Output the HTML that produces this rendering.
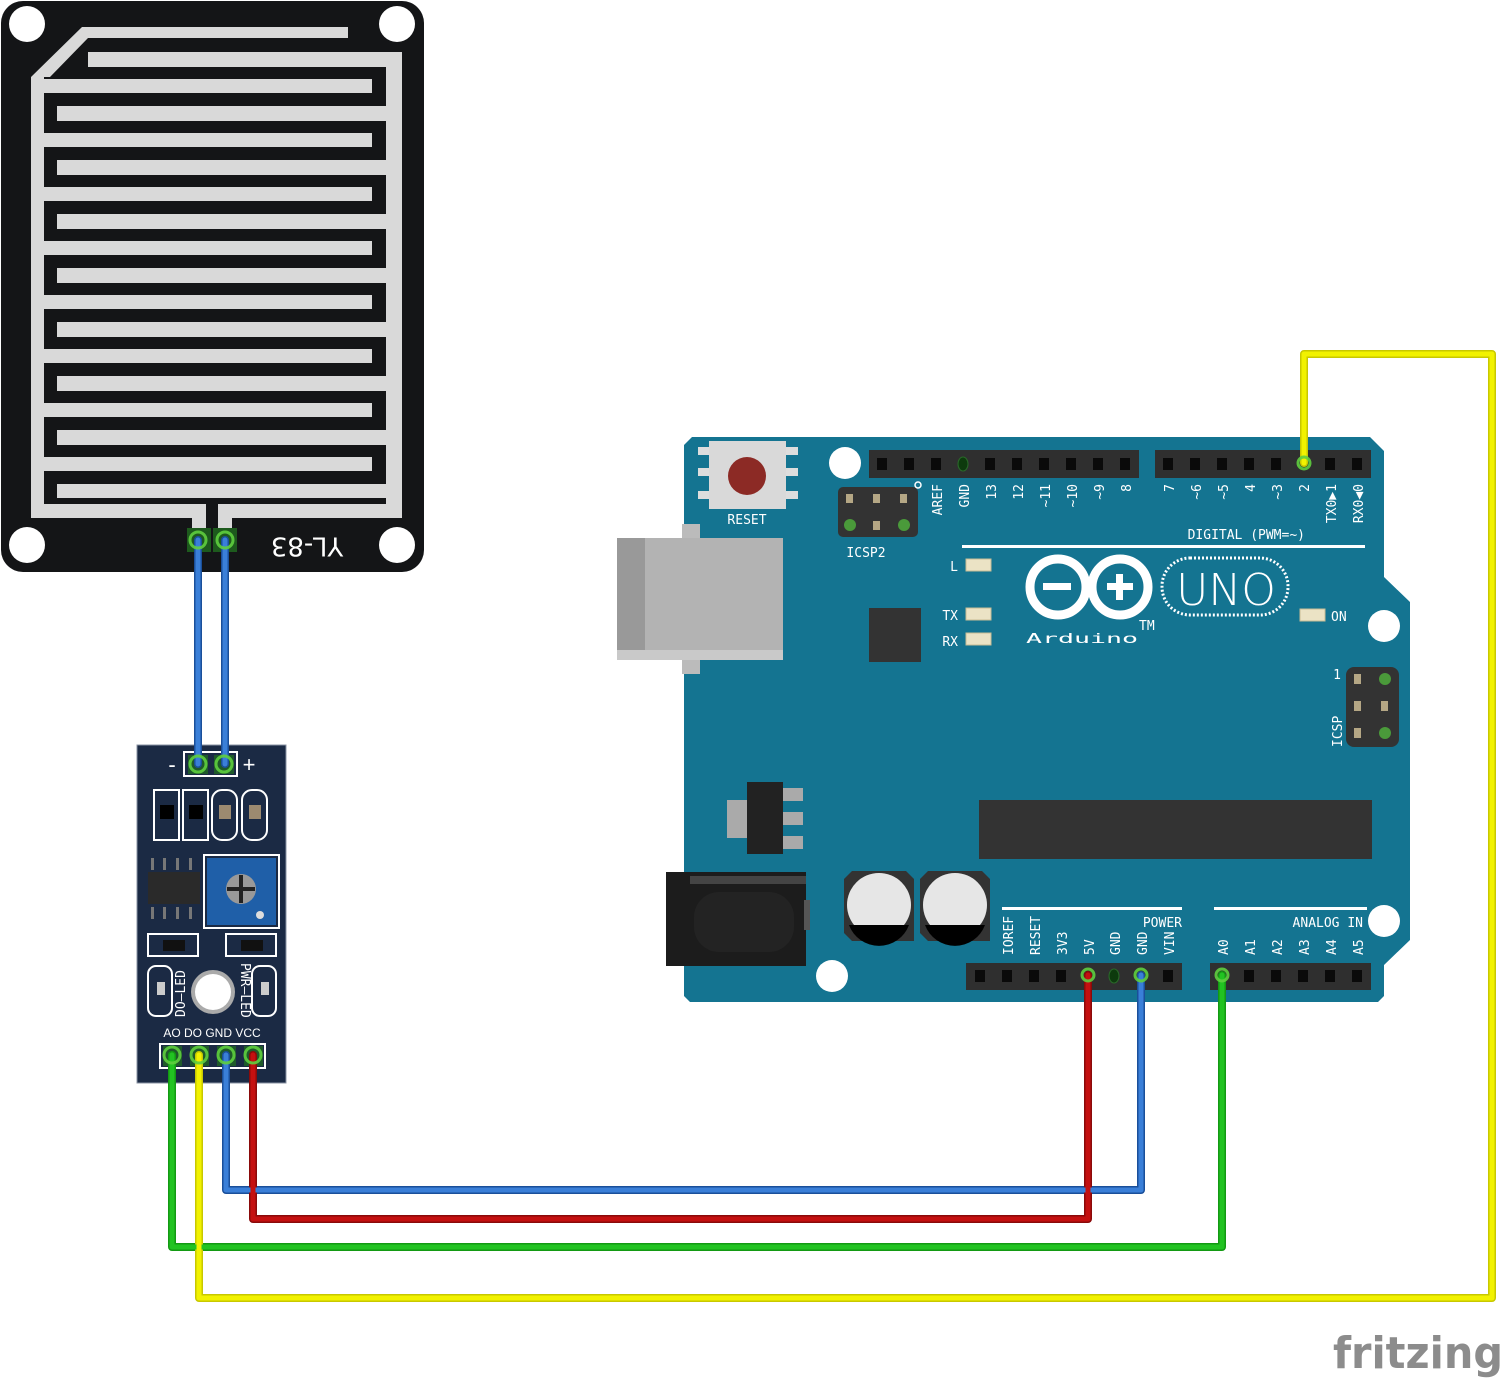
<!DOCTYPE html>
<html><head><meta charset="utf-8"><style>
html,body{margin:0;padding:0;background:#fff;width:1506px;height:1380px;overflow:hidden}
svg{display:block}
.t{font-family:"DejaVu Sans Mono","Liberation Mono",monospace;fill:#fff;font-size:13px}
</style></head><body>
<svg width="1506" height="1380" viewBox="0 0 1506 1380" xmlns="http://www.w3.org/2000/svg">
<rect x="1" y="1" width="423" height="571" rx="22" fill="#141517"/>
<g fill="#d9d9d9">
<polygon points="31,77 82,27 348,27 348,38 88,38 50,77 44,77 44,518 31,518"/>
<rect x="386" y="52" width="16" height="466"/>
<rect x="88" y="52" width="300" height="15"/>
<rect x="57" y="106" width="330" height="15"/>
<rect x="57" y="160" width="330" height="15"/>
<rect x="57" y="214" width="330" height="15"/>
<rect x="57" y="268" width="330" height="15"/>
<rect x="57" y="322" width="330" height="15"/>
<rect x="57" y="376" width="330" height="15"/>
<rect x="57" y="430" width="330" height="15"/>
<rect x="57" y="484" width="330" height="14"/>
<rect x="44" y="79" width="328" height="14"/>
<rect x="44" y="133" width="328" height="14"/>
<rect x="44" y="187" width="328" height="14"/>
<rect x="44" y="241" width="328" height="14"/>
<rect x="44" y="295" width="328" height="14"/>
<rect x="44" y="349" width="328" height="14"/>
<rect x="44" y="403" width="328" height="14"/>
<rect x="44" y="457" width="328" height="14"/>
<rect x="31" y="504" width="175" height="14"/>
<rect x="192" y="504" width="14" height="28"/>
<rect x="218" y="504" width="184" height="14"/>
<rect x="218" y="504" width="14" height="28"/>
</g>
<g fill="#fff"><circle cx="27" cy="24" r="18"/><circle cx="397" cy="24" r="18"/><circle cx="27" cy="545" r="18"/><circle cx="397" cy="545" r="18"/></g>
<rect x="187" y="528" width="24" height="24" fill="#1d5a1d"/><rect x="213" y="528" width="24" height="24" fill="#1d5a1d"/>
<text x="307" y="545" font-family="DejaVu Sans,Liberation Sans,sans-serif" font-size="26" fill="#fff" text-anchor="middle" transform="rotate(180 307 545)" dominant-baseline="middle">YL-83</text>

<rect x="137" y="745" width="149" height="338" fill="#1b2a44"/>
<rect x="137" y="745" width="149" height="338" fill="none" stroke="#8a93a3" stroke-width="1"/>
<rect x="184" y="752" width="53" height="24" fill="none" stroke="#fff" stroke-width="2"/>
<rect x="188" y="755" width="20" height="19" fill="#1f5a2a"/><rect x="214" y="755" width="20" height="19" fill="#1f5a2a"/>
<text x="172" y="772" font-family="Liberation Sans,sans-serif" font-size="22" fill="#fff" text-anchor="middle">-</text>
<text x="249" y="772" font-family="Liberation Sans,sans-serif" font-size="22" fill="#fff" text-anchor="middle">+</text>
<g fill="none" stroke="#fff" stroke-width="2">
<rect x="154" y="790" width="25" height="50"/><rect x="183" y="790" width="25" height="50"/>
<rect x="212" y="790" width="25" height="50" rx="10"/><rect x="242" y="790" width="25" height="50" rx="10"/>
<rect x="204" y="855" width="75" height="73"/>
<rect x="148" y="934" width="50" height="22"/><rect x="226" y="934" width="50" height="22"/>
<rect x="148" y="966" width="24" height="50" rx="8"/><rect x="252" y="966" width="24" height="50" rx="8"/>
<rect x="160" y="1044" width="105" height="24"/>
</g>
<g fill="#000"><rect x="160" y="805" width="14" height="14"/><rect x="189" y="805" width="14" height="14"/></g>
<g fill="#9c8a70"><rect x="219" y="805" width="12" height="14"/><rect x="249" y="805" width="12" height="14"/></g>
<rect x="148" y="872" width="52" height="32" fill="#2a2a2a"/>
<g fill="#777"><rect x="151" y="858" width="3" height="12"/><rect x="163" y="858" width="3" height="12"/><rect x="176" y="858" width="3" height="12"/><rect x="189" y="858" width="3" height="12"/>
<rect x="151" y="907" width="3" height="12"/><rect x="163" y="907" width="3" height="12"/><rect x="176" y="907" width="3" height="12"/><rect x="189" y="907" width="3" height="12"/></g>
<rect x="207" y="858" width="69" height="67" fill="#1f5fa8"/>
<circle cx="241" cy="889" r="15" fill="#999"/><rect x="227" y="887" width="28" height="4" fill="#222"/><rect x="239" y="875" width="4" height="28" fill="#222"/>
<circle cx="260" cy="915" r="4" fill="#ddd"/>
<rect x="163" y="940" width="22" height="11" fill="#111"/><rect x="241" y="940" width="22" height="11" fill="#111"/>
<rect x="157" y="982" width="8" height="13" fill="#ccc"/><rect x="261" y="982" width="8" height="13" fill="#ccc"/>
<circle cx="213" cy="992" r="22" fill="#aaa"/><circle cx="213" cy="992" r="18" fill="#fff"/>
<text class="t" font-size="11" transform="translate(185,1017) rotate(-90)">DO—LED</text>
<text class="t" font-size="11" transform="translate(241,963) rotate(90)">PWR—LED</text>
<text x="212" y="1037" font-family="Liberation Sans,sans-serif" font-size="12" fill="#fff" text-anchor="middle">AO  DO  GND  VCC</text>
<g fill="#1f5a2a"><rect x="163" y="1046" width="19" height="20"/><rect x="190" y="1046" width="19" height="20"/><rect x="217" y="1046" width="19" height="20"/><rect x="244" y="1046" width="19" height="20"/></g>

<polygon points="692,437 1370,437 1384,451 1384,577 1410,602 1410,940 1384,965 1384,996 1378,1002 690,1002 684,996 684,445" fill="#147491"/>
<rect x="682" y="524" width="18" height="150" fill="#bbb"/>
<rect x="617" y="538" width="166" height="122" fill="#b3b3b3"/>
<rect x="617" y="538" width="28" height="122" fill="#999"/>
<rect x="617" y="650" width="166" height="10" fill="#c9c9c9"/>
<rect x="698" y="447" width="100" height="8" fill="#ddd"/><rect x="698" y="468" width="100" height="8" fill="#ddd"/><rect x="698" y="491" width="100" height="8" fill="#ddd"/>
<rect x="709" y="441" width="77" height="68" fill="#d9d9d9"/>
<ellipse cx="747" cy="476" rx="19" ry="19" fill="#8c2a25"/>
<text class="t" x="747" y="524" text-anchor="middle" font-size="15">RESET</text>
<circle cx="845" cy="463" r="16" fill="#fff"/>
<circle cx="1384" cy="626" r="16" fill="#fff"/>
<circle cx="1384" cy="921" r="16" fill="#fff"/>
<circle cx="832" cy="976" r="16" fill="#fff"/>
<rect x="838" y="487" width="80" height="50" rx="5" fill="#333"/>
<g fill="#b5a785"><rect x="846" y="494" width="7" height="9"/><rect x="873" y="494" width="7" height="9"/><rect x="900" y="494" width="7" height="9"/><rect x="873" y="521" width="7" height="9"/></g>
<circle cx="850" cy="525" r="6" fill="#4a9a3a"/><circle cx="904" cy="525" r="6" fill="#4a9a3a"/>
<text class="t" x="866" y="557" text-anchor="middle" font-size="15">ICSP2</text>
<circle cx="918" cy="485" r="3" fill="none" stroke="#fff" stroke-width="1.5"/>
<rect x="869" y="450" width="270" height="28" fill="#2f2f2f"/>
<rect x="1155" y="450" width="216" height="28" fill="#2f2f2f"/>
<g fill="#0a0a0a">
<rect x="877" y="458" width="10" height="12"/><rect x="904" y="458" width="10" height="12"/><rect x="931" y="458" width="10" height="12"/><rect x="985" y="458" width="10" height="12"/><rect x="1012" y="458" width="10" height="12"/><rect x="1039" y="458" width="10" height="12"/><rect x="1066" y="458" width="10" height="12"/><rect x="1093" y="458" width="10" height="12"/><rect x="1120" y="458" width="10" height="12"/>
<rect x="1163" y="458" width="10" height="12"/><rect x="1190" y="458" width="10" height="12"/><rect x="1217" y="458" width="10" height="12"/><rect x="1244" y="458" width="10" height="12"/><rect x="1271" y="458" width="10" height="12"/><rect x="1325" y="458" width="10" height="12"/><rect x="1352" y="458" width="10" height="12"/>
</g>
<ellipse cx="963" cy="464" rx="5" ry="7" fill="#0d3a0d" stroke="#2a6a2a"/>
<g class="t">
<text transform="translate(942,484) rotate(-90)" text-anchor="end">AREF</text>
<text transform="translate(969,484) rotate(-90)" text-anchor="end">GND</text>
<text transform="translate(996,484) rotate(-90)" text-anchor="end">13</text>
<text transform="translate(1023,484) rotate(-90)" text-anchor="end">12</text>
<text transform="translate(1050,484) rotate(-90)" text-anchor="end">~11</text>
<text transform="translate(1077,484) rotate(-90)" text-anchor="end">~10</text>
<text transform="translate(1104,484) rotate(-90)" text-anchor="end">~9</text>
<text transform="translate(1131,484) rotate(-90)" text-anchor="end">8</text>
<text transform="translate(1174,484) rotate(-90)" text-anchor="end">7</text>
<text transform="translate(1201,484) rotate(-90)" text-anchor="end">~6</text>
<text transform="translate(1228,484) rotate(-90)" text-anchor="end">~5</text>
<text transform="translate(1255,484) rotate(-90)" text-anchor="end">4</text>
<text transform="translate(1282,484) rotate(-90)" text-anchor="end">~3</text>
<text transform="translate(1309,484) rotate(-90)" text-anchor="end">2</text>
<text transform="translate(1336,484) rotate(-90)" text-anchor="end">TX0▶1</text>
<text transform="translate(1363,484) rotate(-90)" text-anchor="end">RX0◀0</text>
</g>
<text class="t" x="1305" y="539" text-anchor="end">DIGITAL (PWM=~)</text>
<rect x="962" y="545" width="403" height="3" fill="#fff"/>
<g fill="#ebe3c5" stroke="#c8bd95"><rect x="966" y="559" width="25" height="12"/><rect x="966" y="608" width="25" height="12"/><rect x="966" y="633" width="25" height="12"/><rect x="1300" y="609" width="25" height="12"/></g>
<text class="t" x="958" y="571" text-anchor="end" font-size="16">L</text>
<text class="t" x="958" y="620" text-anchor="end" font-size="16">TX</text>
<text class="t" x="958" y="646" text-anchor="end" font-size="16">RX</text>
<text class="t" x="1331" y="621" font-size="16">ON</text>
<rect x="869" y="608" width="52" height="54" fill="#333"/>
<g fill="none" stroke="#fff" stroke-width="9">
<circle cx="1058" cy="587" r="28"/><circle cx="1120" cy="587" r="28"/>
</g>
<rect x="1043" y="583" width="28" height="7" fill="#fff"/>
<rect x="1107" y="583" width="26" height="7" fill="#fff"/><rect x="1116" y="574" width="7" height="26" fill="#fff"/>
<rect x="1162" y="558" width="126" height="57" rx="28" fill="none" stroke="#fff" stroke-width="3" stroke-dasharray="2 2"/>
<text x="1226" y="605" font-family="DejaVu Sans,Liberation Sans,sans-serif" font-size="44" fill="#fff" text-anchor="middle" font-weight="300">UNO</text>
<text class="t" x="1026" y="643" font-size="22" textLength="112" lengthAdjust="spacingAndGlyphs">Arduino</text>
<text class="t" x="1139" y="630" font-size="7">TM</text>
<rect x="1346" y="667" width="53" height="80" rx="8" fill="#333"/>
<g fill="#b5a785"><rect x="1354" y="674" width="7" height="10"/><rect x="1354" y="701" width="7" height="10"/><rect x="1381" y="701" width="7" height="10"/><rect x="1354" y="728" width="7" height="10"/></g>
<circle cx="1385" cy="679" r="6" fill="#4a9a3a"/><circle cx="1385" cy="733" r="6" fill="#4a9a3a"/>
<text class="t" transform="translate(1342,747) rotate(-90)" font-size="15">ICSP</text>
<text class="t" x="1337" y="679" text-anchor="middle">1</text>
<rect x="727" y="800" width="22" height="38" fill="#aaa"/>
<g fill="#aaa"><rect x="783" y="788" width="20" height="13"/><rect x="783" y="812" width="20" height="13"/><rect x="783" y="836" width="20" height="13"/></g>
<rect x="747" y="782" width="36" height="72" fill="#222"/>
<rect x="979" y="800" width="393" height="59" fill="#333"/>
<rect x="666" y="872" width="140" height="94" fill="#1c1c1c"/>
<rect x="690" y="876" width="116" height="8" fill="#444"/>
<rect x="694" y="892" width="100" height="60" rx="25" fill="#232323"/>
<rect x="804" y="900" width="6" height="30" fill="#555"/>
<g fill="#333"><polygon points="852,871 906,871 914,879 914,941 852,941 844,933 844,879"/><polygon points="928,871 982,871 990,879 990,941 928,941 920,933 920,879"/></g>
<ellipse cx="879" cy="905" rx="32" ry="32" fill="#e6e6e6"/><ellipse cx="955" cy="905" rx="32" ry="32" fill="#e6e6e6"/>
<path d="M849,925 L909,925 A32,32 0 0 1 849,925 Z" fill="#000"/>
<path d="M925,925 L985,925 A32,32 0 0 1 925,925 Z" fill="#000"/>
<rect x="966" y="963" width="216" height="27" fill="#2f2f2f"/>
<rect x="1210" y="963" width="161" height="27" fill="#2f2f2f"/>
<g fill="#0a0a0a">
<rect x="975" y="970" width="10" height="12"/><rect x="1002" y="970" width="10" height="12"/><rect x="1029" y="970" width="10" height="12"/><rect x="1056" y="970" width="10" height="12"/><rect x="1163" y="970" width="10" height="12"/>
<rect x="1244" y="970" width="10" height="12"/><rect x="1271" y="970" width="10" height="12"/><rect x="1298" y="970" width="10" height="12"/><rect x="1325" y="970" width="10" height="12"/><rect x="1352" y="970" width="10" height="12"/>
</g>
<ellipse cx="1114" cy="976" rx="5" ry="7" fill="#0d3a0d" stroke="#2a6a2a"/>
<rect x="1002" y="907" width="180" height="3" fill="#fff"/>
<rect x="1214" y="907" width="153" height="3" fill="#fff"/>
<text class="t" x="1182" y="927" text-anchor="end" font-size="14">POWER</text>
<text class="t" x="1363" y="927" text-anchor="end" font-size="14">ANALOG IN</text>
<g class="t">
<text transform="translate(1013,955) rotate(-90)">IOREF</text>
<text transform="translate(1040,955) rotate(-90)">RESET</text>
<text transform="translate(1067,955) rotate(-90)">3V3</text>
<text transform="translate(1094,955) rotate(-90)">5V</text>
<text transform="translate(1120,955) rotate(-90)">GND</text>
<text transform="translate(1147,955) rotate(-90)">GND</text>
<text transform="translate(1174,955) rotate(-90)">VIN</text>
<text transform="translate(1228,955) rotate(-90)">A0</text>
<text transform="translate(1255,955) rotate(-90)">A1</text>
<text transform="translate(1282,955) rotate(-90)">A2</text>
<text transform="translate(1309,955) rotate(-90)">A3</text>
<text transform="translate(1336,955) rotate(-90)">A4</text>
<text transform="translate(1363,955) rotate(-90)">A5</text>
</g>

<g fill="none" stroke-linejoin="round" stroke-linecap="round">
<g stroke-width="8">
<path d="M198,540 V764 M225,540 V764" stroke="#1a4f9a"/>
<path d="M172,1055 V1247 H1222 V975" stroke="#139a13"/>
<path d="M199,1055 V1298 H1492 V354 H1304 V463" stroke="#c8c800"/>
<path d="M226,1055 V1190 H1141 V975" stroke="#1a4f9a"/>
<path d="M253,1055 V1219 H1088 V975" stroke="#8a0a0a"/>
</g>
<g stroke-width="5">
<path d="M198,540 V764 M225,540 V764" stroke="#3a7fd8"/>
<path d="M172,1055 V1247 H1222 V975" stroke="#22c322"/>
<path d="M199,1055 V1298 H1492 V354 H1304 V463" stroke="#f2f200"/>
<path d="M226,1055 V1190 H1141 V975" stroke="#3a7fd8"/>
<path d="M253,1055 V1219 H1088 V975" stroke="#c41010"/>
</g>
</g>
<g fill="none" stroke="#5fcf3f" stroke-width="3" opacity="0.9">
<circle cx="198" cy="540" r="8"/><circle cx="225" cy="540" r="8"/>
<circle cx="198" cy="764" r="8"/><circle cx="224" cy="764" r="8"/>
<circle cx="172" cy="1055" r="8"/><circle cx="199" cy="1055" r="8"/><circle cx="226" cy="1055" r="8"/><circle cx="253" cy="1055" r="8"/>
<circle cx="1304" cy="463" r="6"/><circle cx="1222" cy="975" r="6"/><circle cx="1141" cy="975" r="6"/><circle cx="1088" cy="975" r="6"/>
</g>
<text x="1333" y="1368" font-family="DejaVu Sans,Liberation Sans,sans-serif" font-size="44" font-weight="bold" fill="#8c8c8c" textLength="170" lengthAdjust="spacingAndGlyphs">fritzing</text>
</svg>
</body></html>
